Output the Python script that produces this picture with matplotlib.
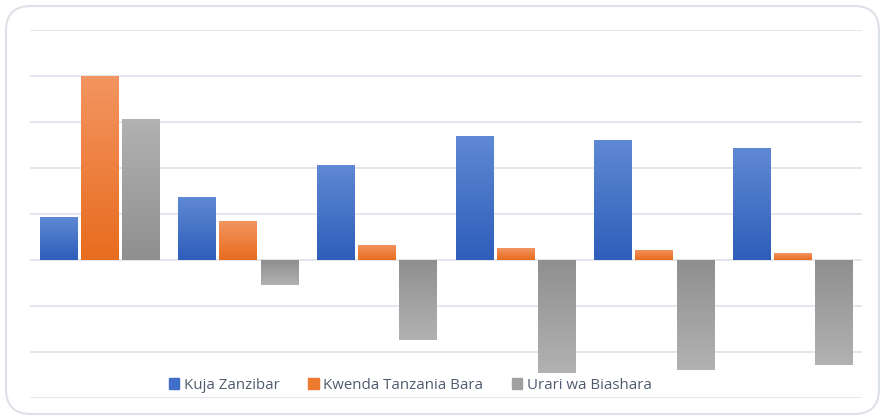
import numpy as np
import matplotlib.pyplot as plt
from matplotlib.patches import FancyBboxPatch
from matplotlib.colors import LinearSegmentedColormap

# values (one gridline = 1 unit)
groups = ['1', '2', '3', '4', '5', '6']
series_names = ['Kuja Zanzibar', 'Kwenda Tanzania Bara', 'Urari wa Biashara']
kuja = [0.93, 1.37, 2.07, 2.70, 2.61, 2.43]
kwenda = [4.00, 0.85, 0.33, 0.26, 0.22, 0.15]
urari = [3.07, -0.54, -1.74, -2.46, -2.39, -2.28]

# (light, dark) gradient ends per series
grad_colors = [('#6089D4', '#2E5EBA'), ('#F39561', '#E86C1F'), ('#B2B2B2', '#8F8F8F')]
legend_colors = ['#3F6FC8', '#EE7A2F', '#A0A0A0']

plt.rcParams['font.family'] = ['Open Sans', 'DejaVu Sans']

fig = plt.figure(figsize=(8.85, 4.19), dpi=100)
fig.patch.set_facecolor('white')

# rounded frame round the chart
frame = FancyBboxPatch((6 / 885, 5 / 419), 873 / 885, 408 / 419,
                       boxstyle='round,pad=0,rounding_size=0.028',
                       transform=fig.transFigure, facecolor='white',
                       edgecolor='#DDE1E8', linewidth=1.5, mutation_aspect=885 / 419,
                       zorder=-5)
fig.patches.append(frame)

ax = fig.add_axes([30 / 885, (419 - 398) / 419, 832 / 885, 368 / 419])
ax.set_facecolor('none')
ax.set_zorder(2)
for s in ax.spines.values():
    s.set_visible(False)
ax.set_xticks([])
ax.set_yticks(np.arange(-3, 6, 1))
ax.tick_params(axis='y', length=0, labelleft=False)
ax.grid(axis='y', color='#E1E4EA', linewidth=1.3)
ax.set_axisbelow(True)

x = np.arange(len(groups))
w = 0.267
step = 0.296
grad = np.linspace(0, 1, 256).reshape(-1, 1)

for i, vals in enumerate([kuja, kwenda, urari]):
    light, dark = grad_colors[i]
    cmap = LinearSegmentedColormap.from_list('g%d' % i, [light, dark])
    bars = ax.bar(x + (i - 1) * step, vals, width=w, color=legend_colors[i],
                  label=series_names[i], zorder=2)
    for b, v in zip(bars, vals):
        x0 = b.get_x()
        x1 = x0 + b.get_width()
        # light at the far end, dark at the zero line
        img = grad if v >= 0 else grad[::-1]
        im = ax.imshow(img, cmap=cmap, aspect='auto', origin='upper',
                       extent=(x0, x1, min(0, v), max(0, v)), zorder=3)
        im.set_clip_path(b)

ax.set_xlim(-0.5, len(groups) - 0.5)
ax.set_ylim(-3, 5)

handles = [plt.Rectangle((0, 0), 1, 1, color=c) for c in legend_colors]
ax.legend(handles, series_names, loc='center', bbox_to_anchor=(0.457, 0.035),
          ncol=3, frameon=False, fontsize=10.8, handlelength=0.7, handleheight=0.7,
          handletextpad=0.3, columnspacing=1.9, labelcolor='#4F5B6E',
          borderpad=0, borderaxespad=0)

fig.savefig('out.png', dpi=100)
